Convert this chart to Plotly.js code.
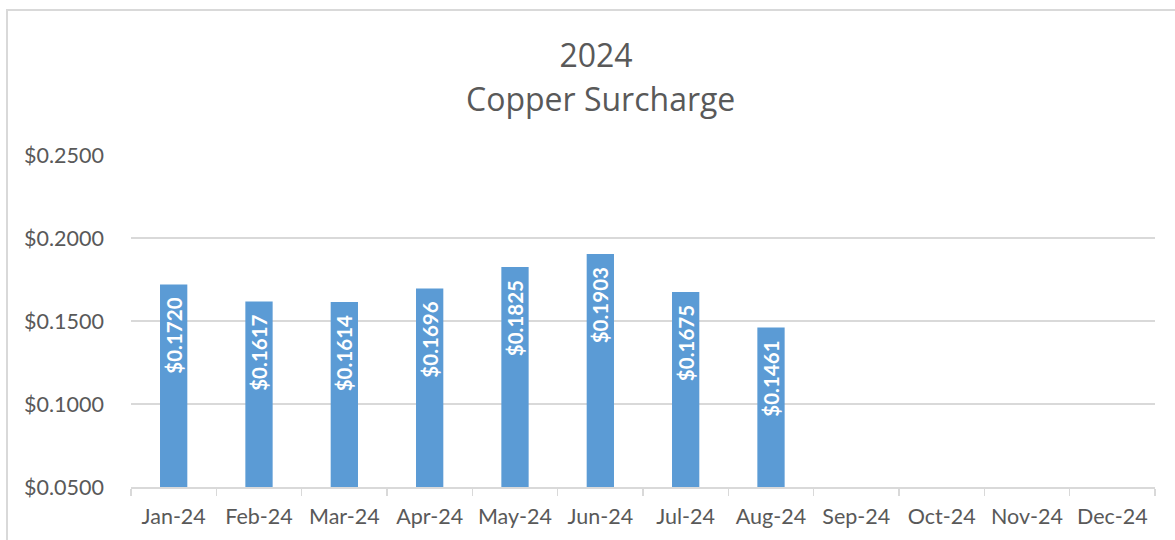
<!DOCTYPE html>
<html>
<head>
<meta charset="utf-8">
<script src="https://cdn.plot.ly/plotly-3.0.1.min.js"></script>
<style>html,body{margin:0;padding:0;background:#fff;}#chart{width:1175px;height:540px;}</style>
</head>
<body>
<div id="chart"></div>
<script>
const months = ["Jan-24","Feb-24","Mar-24","Apr-24","May-24","Jun-24","Jul-24","Aug-24","Sep-24","Oct-24","Nov-24","Dec-24"];
const surcharge = [0.1720, 0.1617, 0.1614, 0.1696, 0.1825, 0.1903, 0.1675, 0.1461, null, null, null, null];
const titleLine1 = "2024";
const titleLine2 = "Copper Surcharge";

const trace = {
  type: "bar",
  x: months,
  y: surcharge,
  width: 0.32,
  marker: {color: "#5B9BD5"},
  texttemplate: "$%{y:.4f}\u00A0\u00A0",
  textposition: "inside",
  insidetextanchor: "end",
  textangle: -90,
  constraintext: "none",
  textfont: {family: "Lato, sans-serif", size: 20.5, color: "#FFFFFF", weight: "bold"},
  hoverinfo: "skip"
};

const layout = {
  width: 1175, height: 540,
  margin: {l: 131, r: 20, t: 155, b: 53},
  paper_bgcolor: "#FFFFFF", plot_bgcolor: "#FFFFFF",
  showlegend: false,
  title: {
    text: titleLine1,
    font: {family: "Open Sans, sans-serif", size: 32, color: "#595959"},
    x: (596-131)/1024, xref: "paper", xanchor: "center",
    y: 1 - 56/540, yref: "container", yanchor: "middle"
  },
  annotations: [{
    text: titleLine2, showarrow: false,
    xref: "paper", yref: "paper", x: (600-131)/1024, y: (487-98)/332,
    xanchor: "center", yanchor: "middle",
    font: {family: "Open Sans, sans-serif", size: 32, color: "#595959"}
  }],
  xaxis: {
    type: "category",
    showline: true, linecolor: "#D9D9D9", linewidth: 1.5,
    ticks: "outside", tickson: "boundaries", ticklen: 7, tickcolor: "#D9D9D9", tickwidth: 1.5,
    showgrid: false,
    ticklabelstandoff: 10,
    tickfont: {family: "Lato, sans-serif", size: 21.5, color: "#595959"},
    fixedrange: true
  },
  yaxis: {
    range: [0.05, 0.25], dtick: 0.05, tick0: 0.05,
    tickprefix: "$", tickformat: ".4f",
    showgrid: true, gridcolor: "#D9D9D9", gridwidth: 1.5,
    zeroline: false, showline: false, ticks: "",
    ticklabelstandoff: 26,
    tickfont: {family: "Lato, sans-serif", size: 21.5, color: "#595959"},
    fixedrange: true
  },
  shapes: [{
    type: "rect", xref: "paper", yref: "paper",
    x0: (7-131)/1024, x1: 1.2, y0: -0.5, y1: (487-10)/332,
    line: {color: "#D9D9D9", width: 2}, fillcolor: "rgba(0,0,0,0)"
  }]
};

Plotly.newPlot("chart", [trace], layout, {displayModeBar: false, staticPlot: true});
</script>
</body>
</html>
